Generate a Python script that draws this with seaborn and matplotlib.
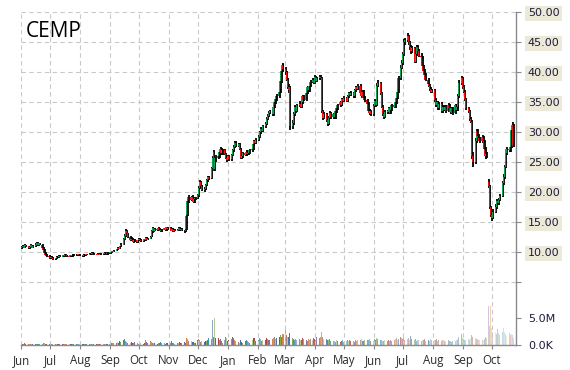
import numpy as np
import pandas as pd
import matplotlib
matplotlib.use("Agg")
import matplotlib.pyplot as plt
import matplotlib.dates as mdates
import matplotlib.colors as mcolors
import seaborn as sns

ticker = "CEMP"
first_day, last_day = "2014-06-02", "2015-10-23"
month_ticks = pd.date_range("2014-06-01", "2015-10-01", freq="MS")
price_ticks = [5, 10, 15, 20, 25, 30, 35, 40, 45, 50]
volume_ticks = [0, 5_000_000]
volume_tick_labels = ["0.0K", "5.0M"]

# one row per trading week (Mon..Fri)
close = [
    10.9, 11.1, 10.8, 11.2, 11.0,  10.7, 10.9, 11.2, 10.8, 11.0,  11.3, 11.6, 11.2, 11.5, 11.3,
    10.8, 10.4, 9.9, 9.6, 9.4,  9.2, 9.0, 9.3, 9.1, 8.9,  9.0, 9.3, 9.2, 9.4, 9.3,
    9.5, 9.4, 9.6, 9.5, 9.4,  9.3, 9.5, 9.4, 9.6, 9.5,  9.6, 9.5, 9.7, 9.6, 9.5,
    9.4, 9.6, 9.5, 9.7, 9.6,  9.8, 9.7, 9.9, 9.8, 9.7,  9.6, 9.8, 9.7, 9.6, 9.8,
    9.7, 9.9, 9.8, 9.7, 9.9,  9.9, 10.0, 10.2, 10.1, 10.3,  10.5, 10.8, 10.6, 11.0, 11.3,
    12.2, 12.8, 13.6, 13.2, 12.6,  12.0, 12.3, 12.1, 11.8, 12.0,  11.7, 12.0, 12.3, 12.1, 11.9,
    12.2, 12.0, 12.4, 12.1, 12.3,  12.6, 13.5, 14.0, 13.6, 13.9,  13.7, 14.0, 13.8, 13.5, 13.8,
    14.0, 13.7, 14.2, 13.9, 14.1,  13.6, 13.9, 13.5, 13.8, 13.6,  13.8, 14.1, 13.7, 13.9, 13.6,
    13.5, 13.8, 16.0, 18.5, 19.2,  18.8, 19.2, 18.4, 18.9, 19.1,  19.5, 20.8, 21.7, 21.0, 20.4,
    20.6, 21.2, 22.0, 22.5, 22.3,  24.0, 25.8, 23.8, 25.5, 25.8,  26.0, 26.8, 27.2, 26.5, 27.0,
    26.4, 25.8, 25.4, 26.0, 25.5,  26.2, 27.0, 27.6, 28.3, 27.8,  28.0, 27.2, 25.8, 26.0, 26.5,
    26.2, 26.8, 26.4, 26.6, 27.0,  27.2, 28.0, 28.5, 28.2, 28.8,  29.2, 30.0, 30.5, 30.2, 31.0,
    31.4, 32.2, 32.8, 33.2, 33.5,  33.0, 34.2, 35.0, 35.6, 36.0,  36.8, 38.5, 40.2, 41.2, 40.5,
    40.0, 38.8, 37.6, 37.0, 31.0,  31.5, 33.0, 34.2, 33.6, 34.5,  34.8, 34.2, 35.0, 36.0, 35.4,
    36.6, 37.5, 37.0, 37.8, 38.4,  38.8, 38.2, 39.2, 38.6, 39.0,  39.3, 39.0, 33.5, 32.4, 33.0,
    32.0, 31.4, 32.4, 33.2, 32.6,  33.0, 32.5, 33.5, 34.0, 34.5,  35.0, 34.6, 35.5, 35.2, 35.7,
    35.2, 36.0, 36.5, 36.2, 36.6,  36.0, 37.0, 37.5, 37.2, 37.8,  36.5, 36.0, 36.8, 35.8, 35.4,
    34.8, 33.6, 33.2, 33.6, 33.0,  34.4, 35.2, 34.6, 37.8, 38.2,  36.5, 34.2, 33.0, 32.6, 33.4,
    33.4, 34.0, 33.2, 33.8, 34.5,  34.2, 35.0, 35.8, 36.8, 39.0,  40.8, 41.6, 43.0, 45.0, 45.4,
    46.0, 45.0, 44.2, 43.5, 44.0,  41.8, 43.0, 44.2, 43.6, 42.8,  42.5, 41.0, 40.2, 39.6, 38.8,
    38.0, 37.8, 37.2, 36.8, 37.0,  35.4, 34.5, 35.0, 34.0, 34.8,  33.5, 34.2, 33.8, 34.3, 33.6,
    34.6, 34.0, 33.4, 34.0, 33.2,  34.5, 33.8, 34.3, 36.0, 38.2,  39.0, 37.6, 36.8, 35.5, 34.0,
    33.5, 32.2, 31.8, 26.0, 25.0,  28.6, 30.2, 29.4, 29.0, 28.6,  29.2, 28.6, 27.2, 26.0, 26.4,
    21.0, 17.5, 16.2, 15.8, 16.8,  17.6, 18.5, 18.2, 18.8, 19.4,  21.6, 22.5, 24.2, 26.5, 27.2,
    27.0, 27.6, 30.4, 31.2, 27.8,
]
open_ = [
    10.7, 10.9, 11.1, 10.8, 11.2,  11.0, 10.7, 10.9, 11.2, 10.8,  11.0, 11.3, 11.6, 11.2, 11.5,
    11.3, 10.8, 10.4, 9.9, 9.6,  9.4, 9.2, 9.0, 9.3, 9.1,  8.9, 9.0, 9.3, 9.2, 9.4,
    9.3, 9.5, 9.4, 9.6, 9.5,  9.4, 9.3, 9.5, 9.4, 9.6,  9.5, 9.6, 9.5, 9.7, 9.6,
    9.5, 9.4, 9.6, 9.5, 9.7,  9.6, 9.8, 9.7, 9.9, 9.8,  9.7, 9.6, 9.8, 9.7, 9.6,
    9.8, 9.7, 9.9, 9.8, 9.7,  9.9, 9.9, 10.0, 10.2, 10.1,  10.3, 10.5, 10.8, 10.6, 11.0,
    11.3, 12.2, 12.8, 13.6, 13.2,  12.6, 12.0, 12.3, 12.1, 11.8,  12.0, 11.7, 12.0, 12.3, 12.1,
    11.9, 12.2, 12.0, 12.4, 12.1,  12.3, 12.6, 13.5, 14.0, 13.6,  13.9, 13.7, 14.0, 13.8, 13.5,
    13.8, 14.0, 13.7, 14.2, 13.9,  14.1, 13.6, 13.9, 13.5, 13.8,  13.6, 13.8, 14.1, 13.7, 13.9,
    13.6, 13.5, 13.9, 16.2, 18.6,  19.2, 18.8, 19.2, 18.4, 18.9,  19.1, 19.5, 20.8, 21.7, 21.0,
    20.4, 20.6, 21.2, 22.0, 22.5,  22.4, 24.1, 26.8, 23.9, 25.4,  25.8, 26.0, 26.8, 27.2, 26.5,
    27.0, 26.4, 25.8, 25.4, 26.0,  25.5, 26.2, 27.0, 27.6, 28.3,  27.8, 28.0, 27.2, 25.8, 26.0,
    26.5, 26.2, 26.8, 26.4, 26.6,  27.0, 27.2, 28.0, 28.5, 28.2,  28.8, 29.2, 30.0, 30.5, 30.2,
    31.0, 31.4, 32.2, 32.8, 33.2,  33.5, 33.0, 34.2, 35.0, 35.6,  36.0, 36.8, 38.5, 40.2, 41.2,
    40.5, 40.0, 38.8, 37.6, 37.5,  31.0, 31.5, 33.0, 34.2, 33.6,  34.5, 34.8, 34.2, 35.0, 36.0,
    35.4, 36.6, 37.5, 37.0, 37.8,  38.4, 38.8, 38.2, 39.2, 38.6,  39.0, 39.3, 39.0, 33.5, 32.4,
    33.0, 32.0, 31.4, 32.4, 33.2,  32.6, 33.0, 32.5, 33.5, 34.0,  34.5, 35.0, 34.6, 35.5, 35.2,
    35.7, 35.2, 36.0, 36.5, 36.2,  36.6, 36.0, 37.0, 37.5, 37.2,  37.8, 36.5, 36.0, 36.8, 35.8,
    35.4, 34.8, 33.6, 33.2, 33.6,  33.0, 34.4, 35.2, 34.6, 37.8,  38.2, 36.5, 34.2, 33.0, 32.6,
    33.4, 33.4, 34.0, 33.2, 33.8,  34.5, 34.2, 35.0, 35.8, 36.8,  39.0, 40.8, 41.6, 43.0, 45.0,
    45.4, 46.0, 45.0, 44.2, 43.5,  44.0, 41.8, 43.0, 44.2, 43.6,  42.8, 42.5, 41.0, 40.2, 39.6,
    38.8, 38.0, 37.8, 37.2, 36.8,  37.0, 35.4, 34.5, 35.0, 34.0,  34.8, 33.5, 34.2, 33.8, 34.3,
    33.6, 34.6, 34.0, 33.4, 34.0,  33.2, 34.5, 33.8, 34.3, 36.0,  38.2, 39.0, 37.6, 36.8, 35.5,
    34.0, 33.5, 32.2, 31.8, 26.0,  25.0, 28.6, 30.2, 29.4, 29.0,  28.6, 29.2, 28.6, 27.2, 26.0,
    21.8, 21.0, 17.5, 16.2, 15.8,  16.8, 17.6, 18.5, 18.2, 18.8,  19.4, 21.6, 22.5, 24.2, 26.5,
    27.2, 27.0, 27.6, 30.4, 31.2,
]
high = [
    11.1, 11.3, 11.2, 11.4, 11.3,  11.1, 11.0, 11.4, 11.3, 11.2,  11.5, 11.8, 11.7, 11.6, 11.6,
    11.4, 10.9, 10.5, 10.0, 9.7,  9.5, 9.3, 9.4, 9.4, 9.2,  9.1, 9.4, 9.4, 9.5, 9.5,
    9.6, 9.6, 9.7, 9.7, 9.6,  9.5, 9.6, 9.6, 9.7, 9.7,  9.7, 9.7, 9.8, 9.8, 9.7,
    9.6, 9.7, 9.7, 9.8, 9.8,  9.9, 9.9, 10.0, 10.0, 9.9,  9.8, 9.9, 9.9, 9.8, 9.9,
    9.9, 10.0, 10.0, 9.9, 10.0,  10.0, 10.1, 10.3, 10.3, 10.4,  10.6, 10.9, 10.9, 11.1, 11.5,
    12.4, 13.0, 13.9, 13.7, 13.3,  12.7, 12.5, 12.4, 12.2, 12.2,  12.1, 12.1, 12.4, 12.4, 12.2,
    12.3, 12.3, 12.5, 12.5, 12.4,  12.8, 13.7, 14.3, 14.1, 14.1,  14.0, 14.2, 14.1, 13.9, 13.9,
    14.1, 14.1, 14.3, 14.3, 14.2,  14.2, 14.0, 14.0, 13.9, 13.9,  13.9, 14.2, 14.2, 14.0, 14.0,
    13.7, 13.9, 16.3, 18.8, 19.5,  19.4, 19.5, 19.3, 19.1, 19.3,  19.7, 21.0, 22.0, 21.9, 21.2,
    20.9, 21.4, 22.2, 22.8, 22.7,  24.3, 26.1, 27.0, 25.8, 26.2,  26.4, 27.1, 27.5, 27.4, 27.3,
    27.2, 26.6, 26.0, 26.2, 26.2,  26.4, 27.3, 27.9, 28.6, 28.5,  28.3, 28.2, 27.4, 26.3, 26.7,
    26.7, 27.0, 27.0, 26.8, 27.3,  27.5, 28.3, 28.8, 28.7, 29.1,  29.5, 30.3, 30.9, 30.7, 31.3,
    31.7, 32.5, 33.1, 33.6, 33.8,  33.8, 34.5, 35.3, 36.0, 36.4,  37.2, 38.8, 40.6, 41.6, 41.4,
    40.9, 40.3, 39.1, 38.0, 37.8,  32.0, 33.4, 34.6, 34.4, 34.8,  35.2, 35.0, 35.3, 36.3, 36.2,
    36.9, 37.8, 37.7, 38.1, 38.7,  39.1, 39.0, 39.5, 39.4, 39.3,  39.6, 39.5, 39.2, 33.8, 33.4,
    33.2, 32.3, 32.7, 33.5, 33.4,  33.3, 33.2, 33.8, 34.3, 34.8,  35.3, 35.2, 35.8, 35.8, 36.0,
    35.9, 36.3, 36.8, 36.7, 36.9,  36.8, 37.3, 37.8, 37.7, 38.1,  38.0, 36.8, 37.0, 37.0, 36.0,
    35.6, 35.0, 33.9, 33.9, 33.8,  34.7, 35.5, 35.4, 38.2, 38.7,  38.4, 36.7, 34.5, 33.3, 33.7,
    33.8, 34.3, 34.2, 34.1, 34.8,  34.8, 35.3, 36.1, 37.1, 39.4,  41.2, 42.0, 43.4, 45.5, 45.8,
    46.6, 46.3, 45.3, 44.6, 44.4,  44.2, 43.3, 44.6, 44.5, 43.9,  43.2, 42.8, 41.3, 40.5, 39.9,
    39.0, 38.3, 38.0, 37.5, 37.3,  37.2, 35.7, 35.3, 35.2, 35.1,  35.0, 34.5, 34.4, 34.6, 34.5,
    34.9, 34.8, 34.2, 34.3, 34.2,  34.8, 34.7, 34.6, 36.4, 38.7,  39.4, 39.2, 37.9, 37.0, 35.8,
    34.3, 33.8, 32.6, 32.0, 26.8,  29.0, 30.6, 30.5, 29.8, 29.3,  29.6, 29.4, 28.8, 27.5, 26.8,
    22.3, 21.3, 17.8, 16.6, 17.2,  18.0, 18.9, 18.8, 19.1, 19.8,  21.9, 23.0, 24.6, 26.9, 27.6,
    27.5, 27.9, 30.8, 31.8, 31.4,
]
low = [
    10.6, 10.8, 10.7, 10.7, 10.9,  10.6, 10.6, 10.8, 10.7, 10.7,  10.9, 11.2, 11.1, 11.1, 11.2,
    10.7, 10.3, 9.8, 9.4, 9.2,  9.1, 8.9, 8.9, 9.0, 8.8,  8.8, 8.9, 9.1, 9.1, 9.2,
    9.2, 9.3, 9.3, 9.4, 9.3,  9.2, 9.2, 9.3, 9.3, 9.4,  9.4, 9.4, 9.4, 9.5, 9.4,
    9.3, 9.3, 9.4, 9.4, 9.5,  9.5, 9.6, 9.6, 9.7, 9.6,  9.5, 9.5, 9.6, 9.5, 9.5,
    9.6, 9.6, 9.7, 9.6, 9.6,  9.8, 9.8, 9.9, 10.0, 10.0,  10.2, 10.4, 10.5, 10.5, 10.9,
    11.2, 12.0, 12.6, 13.0, 12.4,  11.9, 11.9, 12.0, 11.6, 11.7,  11.6, 11.6, 11.9, 12.0, 11.8,
    11.8, 11.9, 11.9, 12.0, 12.0,  12.2, 12.5, 13.3, 13.4, 13.5,  13.5, 13.6, 13.7, 13.4, 13.4,
    13.7, 13.6, 13.6, 13.8, 13.8,  13.5, 13.5, 13.4, 13.4, 13.5,  13.5, 13.7, 13.6, 13.6, 13.5,
    13.3, 13.4, 13.8, 16.0, 18.3,  18.5, 18.6, 18.2, 18.3, 18.7,  18.9, 19.3, 20.6, 20.8, 20.2,
    20.1, 20.4, 21.0, 21.8, 22.0,  22.2, 23.9, 23.5, 23.6, 25.0,  25.5, 25.8, 26.5, 26.3, 26.3,
    26.2, 25.6, 25.1, 25.2, 25.2,  25.3, 26.0, 26.8, 27.4, 27.5,  27.5, 27.0, 25.5, 25.5, 25.8,
    26.0, 26.0, 26.2, 26.2, 26.4,  26.8, 27.0, 27.8, 28.0, 28.0,  28.5, 29.0, 29.8, 30.0, 30.0,
    30.7, 31.2, 32.0, 32.5, 33.0,  32.7, 32.8, 34.0, 34.8, 35.3,  35.7, 36.5, 38.2, 40.0, 40.2,
    39.6, 38.5, 37.3, 36.6, 30.4,  30.6, 31.2, 32.7, 33.3, 33.4,  34.2, 34.0, 34.0, 34.8, 35.2,
    35.2, 36.4, 36.8, 36.8, 37.6,  38.2, 38.0, 38.0, 38.4, 38.4,  38.8, 38.7, 33.2, 32.0, 32.2,
    31.8, 31.0, 31.2, 32.2, 32.3,  32.3, 32.2, 32.3, 33.3, 33.8,  34.3, 34.4, 34.4, 35.0, 35.0,
    35.0, 35.0, 35.8, 36.0, 36.0,  35.8, 35.8, 36.8, 37.0, 37.0,  36.3, 35.7, 35.8, 35.6, 35.1,
    34.5, 33.4, 32.9, 33.0, 32.7,  32.8, 34.2, 34.3, 34.4, 37.5,  36.2, 34.0, 32.7, 32.2, 32.4,
    33.0, 33.2, 33.0, 33.0, 33.6,  34.0, 34.0, 34.8, 35.6, 36.6,  38.8, 40.5, 41.3, 42.8, 44.6,
    45.0, 44.6, 43.8, 43.0, 43.2,  41.5, 41.5, 42.8, 43.3, 42.5,  42.2, 40.7, 39.9, 39.3, 38.5,
    37.7, 37.5, 36.9, 36.5, 36.6,  35.1, 34.2, 34.3, 33.7, 33.8,  33.2, 33.3, 33.5, 33.6, 33.3,
    33.4, 33.8, 33.1, 33.2, 32.9,  33.0, 33.5, 33.6, 34.1, 35.8,  37.9, 37.3, 36.5, 35.2, 33.7,
    33.2, 31.9, 31.5, 25.5, 24.3,  24.8, 28.3, 29.1, 28.7, 28.2,  28.3, 28.3, 26.9, 25.6, 25.7,
    20.8, 17.2, 15.9, 15.3, 15.6,  16.5, 17.3, 17.9, 17.9, 18.5,  19.2, 21.3, 22.2, 24.0, 26.2,
    26.7, 26.7, 27.4, 30.0, 27.5,
]
volume_m = [
    .25, .30, .20, .35, .25,  .20, .30, .25, .20, .30,  .25, .20, .30, .25, .20,
    .30, .35, .40, .30, .25,  .20, .25, .20, .30, .25,  .20, .25, .30, .20, .25,
    .25, .20, .30, .25, .20,  .20, .25, .20, .30, .25,  .25, .20, .25, .20, .30,
    .20, .25, .30, .25, .20,  .25, .30, .20, .25, .20,  .20, .25, .20, .30, .25,
    .25, .20, .30, .25, .30,  .30, .25, .40, .35, .50,  .45, .60, .50, .75, .60,
    .90, 1.10, .80, .60, .50,  .45, .55, .35, .40, .60,  .35, .40, .30, .50, .40,
    .30, .40, .90, .55, .40,  .80, .60, .50, .40, .35,  .30, .45, .35, .60, .40,
    .50, .30, .40, .35, .45,  .35, .70, .50, .40, .30,  .40, .35, .55, .45, .35,
    .60, .50, 1.40, 1.20, .80,  .70, .55, .60, .45, .35,  1.00, 1.20, .90, .60, .70,
    .60, .85, .70, 1.00, 1.40,  1.20, 4.60, 1.60, 5.00, 1.40,  1.30, .90, 1.20, .80, .50,
    .90, 1.60, 1.30, .80, 1.00,  1.10, 1.50, 1.30, 1.00, .70,  .60, .50, .90, .60, .50,
    .70, .90, .80, .60, .50,  .90, 1.00, 1.30, .80, .70,  1.00, 1.40, 1.10, .80, .90,
    1.00, 1.30, 1.20, .90, 1.00,  1.10, 1.40, 1.60, 1.20, 1.30,  1.50, 1.80, 1.50, 1.50, 2.00,
    2.90, 1.90, 1.60, 1.50, 2.30,  1.40, 1.20, 1.00, 1.10, .90,  1.20, .90, 1.00, 1.30, 1.10,
    1.00, .80, 1.10, .90, 1.20,  .90, 1.40, 1.20, 1.00, 1.50,  1.30, 1.60, 2.40, 1.50, 1.10,
    1.20, 1.00, .90, 1.10, .80,  .70, .80, .60, .90, .70,  .60, .80, .70, .90, .60,
    .70, .90, .80, 1.00, .70,  .80, .60, .90, .70, 1.00,  .90, 1.10, .80, .70, .90,
    1.00, .90, 1.20, .80, .70,  .80, 1.10, .90, 1.40, 1.20,  1.00, .90, .80, .70, .90,
    .80, 1.00, .70, .90, .80,  .90, 1.10, 1.30, 1.00, 1.20,  1.50, 1.30, 1.10, 1.60, 1.00,
    1.20, 1.40, 1.00, 1.70, 1.10,  .90, 1.10, .80, 1.00, .90,  .80, 1.00, .90, 1.10, .80,
    .90, 1.00, .80, 1.20, .90,  1.00, .90, 1.10, .80, .90,  .80, 1.00, .90, .70, .80,
    .90, .70, .80, .60, .70,  .80, .90, 1.00, 1.20, 1.60,  2.00, 1.40, 1.20, 1.00, .90,
    1.10, 1.00, 1.40, 1.80, 1.60,  1.40, 1.20, 1.10, .90, 1.00,  .90, 1.00, 1.20, 1.50, 1.40,
    7.20, 3.50, 7.20, 3.10, 2.50,  2.40, 2.00, 3.00, 2.20, 1.80,  2.50, 3.20, 2.40, 2.00, 1.70,
    2.30, 1.80, 2.10, 1.90, 1.40,
]

dates = pd.bdate_range(first_day, last_day)
df = pd.DataFrame({"date": dates, "open": open_, "high": high, "low": low,
                   "close": close, "volume": np.array(volume_m) * 1e6})

sns.set_theme(style="ticks")
plt.rcParams["font.family"] = ["DejaVu Sans"]

W, H = 570, 370
fig = plt.figure(figsize=(W / 100, H / 100), dpi=100)
fig.patch.set_facecolor("white")
ax_left, ax_right, ax_top, ax_bottom = 21, 516, 12.3, 345.3
ax = fig.add_axes([ax_left / W, 1 - ax_bottom / H,
                   (ax_right - ax_left) / W, (ax_bottom - ax_top) / H])
vax = ax.twinx()
ax.set_zorder(vax.get_zorder() + 1)
ax.patch.set_visible(False)

x = mdates.date2num(df["date"])
up = df["close"].values >= df["open"].values
green, red = "#0fa356", "#f20d0d"

# volume bars, Highcharts-like palette, fading with time
pal = sns.color_palette(["#4572A7", "#AA4643", "#89A54E", "#80699B", "#3D96AE",
                         "#DB843D", "#92A8CD", "#A47D7C", "#B5CA92"])
n = len(df)
idx = np.arange(n)
alphas = np.clip(1.0 - np.maximum(0, idx - 185) / (n - 185) * 0.72, 0.28, 1.0)
vcolors = [mcolors.to_rgba(pal[i % len(pal)], alphas[i]) for i in idx]
vax.bar(x, df["volume"], width=1.05, color=vcolors, linewidth=0)
vax.set_ylim(0, 61e6)
vax.set_yticks(volume_ticks)
vax.set_yticklabels(volume_tick_labels)

# candles: black high-low stroke with coloured open-close body beside it
ax.vlines(x + 0.5, df["low"], df["high"], color="black", lw=1.3, zorder=3)
body_lo = np.minimum(df["open"], df["close"])
body_h = np.maximum(np.abs(df["close"] - df["open"]), 0.08)
ax.bar(x - 0.35, body_h, bottom=body_lo, width=1.05,
       color=np.where(up, green, red), linewidth=0, zorder=4)

ax.set_xlim(mdates.date2num(pd.Timestamp("2014-06-01")),
            mdates.date2num(pd.Timestamp("2015-10-26")))
ax.set_ylim(-5.5, 50)
ax.set_yticks(price_ticks)
ax.set_yticklabels(["" if v == 5 else f"{v:.2f}" for v in price_ticks])
ax.set_xticks(mdates.date2num(month_ticks))
ax.set_xticklabels([d.strftime("%b") for d in month_ticks])

ax.grid(True, color="#c9c9c9", linestyle=(0, (4, 3)), linewidth=0.8)
ax.set_axisbelow(True)

for a in (ax, vax):
    for s in ("left", "top"):
        a.spines[s].set_visible(False)
vax.spines["bottom"].set_visible(False)
vax.spines["right"].set_visible(False)
ax.spines["right"].set_color("#8a8a8a")
ax.spines["bottom"].set_color("#8a8a8a")
ax.spines["right"].set_linewidth(1.0)
ax.spines["bottom"].set_linewidth(1.0)

ax.yaxis.set_ticks_position("right")
ax.tick_params(axis="y", which="both", left=False, right=True, direction="out",
               length=3.5, width=0.8, color="#8a8a8a", pad=5,
               labelsize=8, labelcolor="#1c1c3c")
vax.tick_params(axis="y", right=True, direction="out", length=3.5, width=0.8,
                color="#8a8a8a", pad=5, labelsize=8, labelcolor="#1c1c3c")
ax.tick_params(axis="x", bottom=True, direction="out", length=3, width=0.8,
               color="#8a8a8a", pad=3, labelsize=8.3, labelcolor="#2a2a2a")
for lbl in ax.get_xticklabels():
    lbl.set_fontfamily(["Open Sans", "DejaVu Sans"])
for lbl in ax.get_yticklabels():
    lbl.set_bbox(dict(facecolor="#ECE9D8", edgecolor="none", pad=1.8))

fig.text(25.5 / W, 1 - 37 / H, ticker, fontsize=15, color="black",
         family=["Open Sans", "DejaVu Sans"], ha="left", va="baseline")

fig.savefig("out.png", dpi=100, facecolor="white")
